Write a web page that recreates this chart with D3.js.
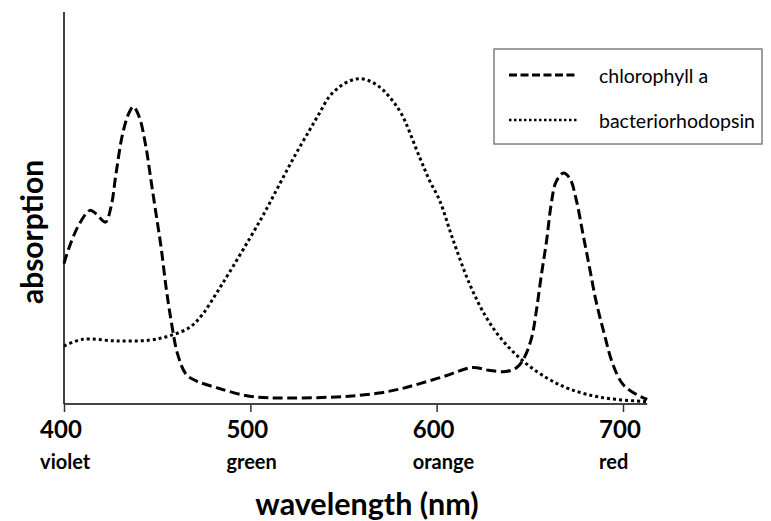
<!DOCTYPE html>
<html><head><meta charset="utf-8">
<script src="https://cdn.jsdelivr.net/npm/d3@7"></script>
<style>
body{margin:0;background:#fff;}
svg{display:block;}
text{font-family:Lato,"Open Sans",sans-serif;}
</style></head>
<body>
<svg id="chart" width="771" height="521"></svg>
<script>
// ---- data ----
const chlWavelength = [400,402.8,408.2,414,417.2,422.2,425.2,427.9,431.5,435.1,437.2,440.4,444,446.7,449.4,452.1,454.8,457.5,461,465.5,470.9,481.6,499.5,521,553,569,580,591,605,619,628,637,643,647,651,653.5,656,659,661.5,664,668,671.5,675,678.5,682,685.5,690,694.5,700,707,713];
const chlAbsorption = [35.8,40,45.9,49.4,48.5,46.4,50.2,58.7,69,74.5,75.8,73.2,65.5,57,48.5,40,29.7,21.2,12.7,7.6,5.9,4.2,2.0,1.5,2.0,2.8,3.8,5.2,7.2,9.3,8.6,8.3,9.3,11.8,17,23.8,32.3,41.7,51.1,56.6,58.9,57.5,51.9,43.4,34.9,26.3,17.8,10.2,5.0,2.5,1.2];
const bacWavelength = [400,410,428,446,456.6,467.3,474.4,481.6,488.8,499.5,507.6,515.6,523.7,531.7,537.1,542.5,547.9,553.2,558.6,564,569.3,574.7,581,590.8,596.2,601.6,608.7,617.7,626.6,635.6,646.3,658.9,671.4,689.3,713];
const bacAbsorption = [14.8,16.5,16.1,16.3,17.4,19.5,22.9,28.1,33.6,42.1,48.8,56,63.2,69.8,74.2,78.5,80.9,82.4,83.0,82.4,80.9,78.3,74.1,63.0,57,51.9,42,30.6,22.1,16.1,11,6.7,3.8,1.6,0.6];
const tickValues = [400,500,600,700];
const colorNames = ["violet","green","orange","red"];
const seriesNames = ["chlorophyll a","bacteriorhodopsin"];
const xTitle = "wavelength (nm)";
const yTitle = "absorption";

// ---- layout ----
const svg = d3.select("#chart");
const x = d3.scaleLinear().domain([400,700]).range([64,623]);
const xMax = 713;
const y = d3.scaleLinear().domain([0,100]).range([404,12]);

const line = d3.line()
  .x(d=>x(d[0])).y(d=>y(d[1]))
  .curve(d3.curveCatmullRom.alpha(0.5));

const chl = chlWavelength.map((w,i)=>[w,chlAbsorption[i]]);
const bac = bacWavelength.map((w,i)=>[w,bacAbsorption[i]]);

// axes
const xAxis = d3.axisBottom(x).tickValues(tickValues).tickSize(8).tickFormat("");
const gx = svg.append("g").attr("transform",`translate(0,${y(0)})`).call(xAxis);
gx.select(".domain").remove();
gx.selectAll(".tick line").attr("stroke","#333").attr("stroke-width",1.5);
svg.append("line").attr("x1",x(400)).attr("x2",x(xMax)).attr("y1",y(0)).attr("y2",y(0))
  .attr("stroke","#444").attr("stroke-width",2);
svg.append("line").attr("x1",x(400)).attr("x2",x(400)).attr("y1",y(100)).attr("y2",y(0))
  .attr("stroke","#000").attr("stroke-width",1.5);

// tick labels
const tl = svg.append("g");
tickValues.forEach((t,i)=>{
  const t1 = tl.append("text").attr("x",x(t)-3).attr("y",438).attr("text-anchor","middle")
    .attr("font-size",24).attr("font-weight","bold").attr("fill","#000").text(t);
  const bb = t1.node().getBBox();
  tl.append("text").attr("x",bb.x).attr("y",469)
    .attr("font-size",20).attr("font-weight","bold").attr("fill","#000").text(colorNames[i]);
});

// titles
svg.append("text").attr("x",367).attr("y",515).attr("text-anchor","middle")
  .attr("font-size",30.5).attr("font-weight","bold").text(xTitle);
svg.append("text").attr("transform","translate(43,232) rotate(-90)").attr("text-anchor","middle")
  .attr("font-size",30).attr("font-weight","bold").text(yTitle);

// curves
svg.append("path").datum(bac).attr("d",line).attr("fill","none")
  .attr("stroke","#000").attr("stroke-width",3).attr("stroke-dasharray","3,3");
svg.append("path").datum(chl).attr("d",line).attr("fill","none")
  .attr("stroke","#000").attr("stroke-width",3).attr("stroke-dasharray","10,4.5");

// legend
const lg = svg.append("g");
lg.append("rect").attr("x",494).attr("y",49).attr("width",268).attr("height",95)
  .attr("fill","#fff").attr("stroke","#7f7f7f").attr("stroke-width",1.5);
const dashes = ["8,3.5","2.5,2.5"];
const widths = [3,2.5];
seriesNames.forEach((n,i)=>{
  const yy = 75 + i*45;
  lg.append("line").attr("x1",509).attr("x2",577).attr("y1",yy).attr("y2",yy)
    .attr("stroke","#000").attr("stroke-width",widths[i]).attr("stroke-dasharray",dashes[i]);
  lg.append("text").attr("x",599).attr("y",yy+8).attr("font-size",19.5).attr("fill","#000").text(n);
});
</script>
</body></html>
